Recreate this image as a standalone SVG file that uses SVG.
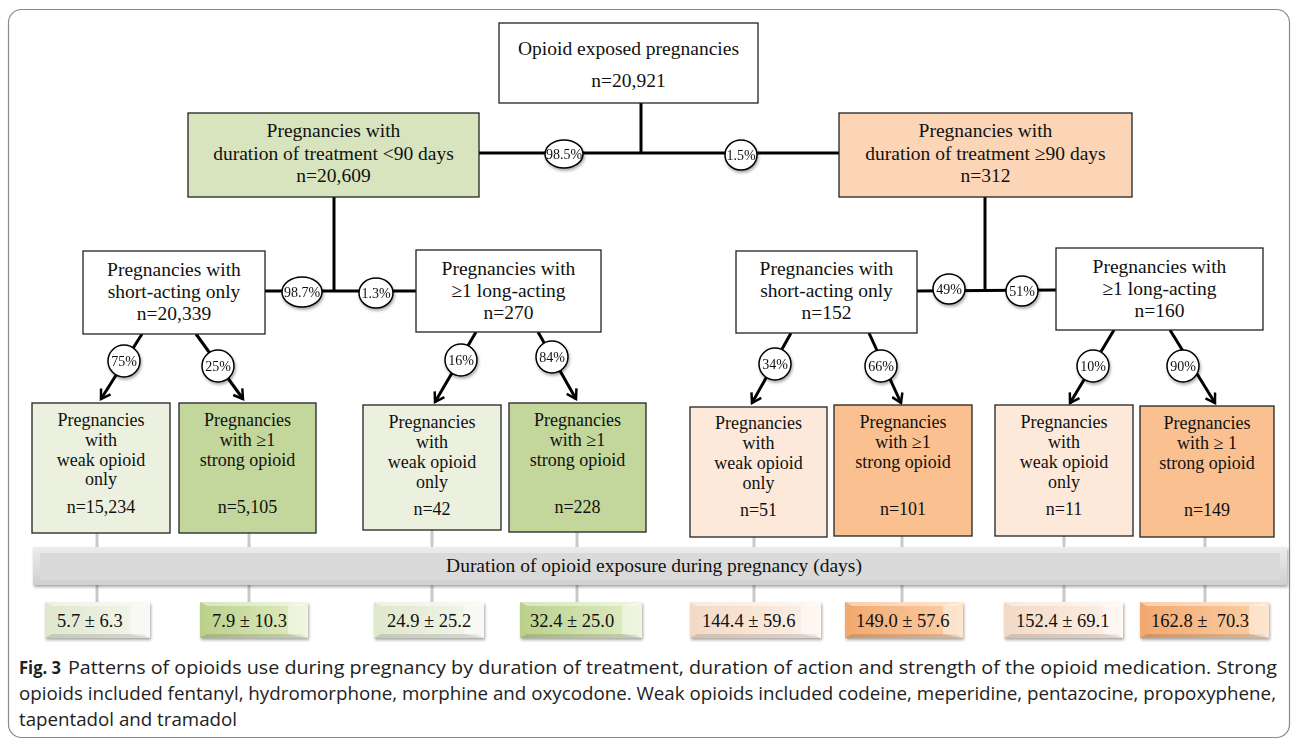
<svg xmlns="http://www.w3.org/2000/svg" width="1292" height="743" viewBox="0 0 1292 743">
<style>
.box{stroke:#222;stroke-width:1.3}
.t{font-family:"Liberation Serif",serif;font-size:19.5px;fill:#111;text-anchor:middle}
.s{font-family:"Liberation Serif",serif;font-size:18px;fill:#111;text-anchor:middle}
.p{font-family:"Liberation Serif",serif;font-size:14px;fill:#111;text-anchor:middle}
.v{font-family:"Liberation Serif",serif;font-size:18.5px;fill:#111}
.ln{stroke:#000;stroke-width:3;fill:none}
.ar{stroke:#000;stroke-width:3;fill:none;marker-end:url(#ah)}
.pill{fill:#fff;stroke:#000;stroke-width:1.5}
.g{stroke:#c9c9c9;stroke-width:3}
.cap{font-family:"Open Sans",sans-serif;font-size:18px;fill:#222}
.hl{fill:#fff;opacity:0.45}
.dk{fill:#000;opacity:0.12}
</style>
<defs>
<marker id="ah" viewBox="0 0 12 12" refX="9" refY="6" markerWidth="4.5" markerHeight="4.5" orient="auto" markerUnits="strokeWidth">
<path d="M1,1 L9,6 L1,11" fill="none" stroke="#000" stroke-width="2.2"/>
</marker>
<linearGradient id="band" x1="0" y1="0" x2="0" y2="1"><stop offset="0" stop-color="#ececec"/><stop offset="1" stop-color="#cfcfcf"/></linearGradient>
<linearGradient id="lg" x1="0" y1="0" x2="1" y2="0"><stop offset="0" stop-color="#dfe7cc"/><stop offset="1" stop-color="#f4f6ee"/></linearGradient>
<linearGradient id="dg" x1="0" y1="0" x2="1" y2="0"><stop offset="0" stop-color="#b9d08a"/><stop offset="1" stop-color="#e3eec7"/></linearGradient>
<linearGradient id="lo" x1="0" y1="0" x2="1" y2="0"><stop offset="0" stop-color="#f2d9c6"/><stop offset="1" stop-color="#fdf1e8"/></linearGradient>
<linearGradient id="do" x1="0" y1="0" x2="1" y2="0"><stop offset="0" stop-color="#f2a86e"/><stop offset="1" stop-color="#fcd0a8"/></linearGradient>
<filter id="sh" x="-10%" y="-20%" width="120%" height="160%"><feDropShadow dx="1" dy="2" stdDeviation="1.5" flood-color="#000" flood-opacity="0.35"/></filter>
</defs>

<rect x="8.5" y="9.5" width="1281" height="728" rx="13" fill="#fff" stroke="#8a8a8a" stroke-width="1.2"/>

<g id="grey-connectors">
<line class="g" x1="97" y1="533" x2="97" y2="603"/>
<line class="g" x1="249" y1="533" x2="249" y2="603"/>
<line class="g" x1="432" y1="530" x2="432" y2="603"/>
<line class="g" x1="577" y1="532" x2="577" y2="603"/>
<line class="g" x1="754" y1="537" x2="754" y2="603"/>
<line class="g" x1="902" y1="536" x2="902" y2="603"/>
<line class="g" x1="1064" y1="536" x2="1064" y2="603"/>
<line class="g" x1="1205" y1="537" x2="1205" y2="603"/>
</g>

<g id="connectors">
<line class="ln" x1="641" y1="103" x2="641" y2="153"/>
<line class="ln" x1="479" y1="153" x2="839" y2="153"/>
<line class="ln" x1="334" y1="197" x2="334" y2="291"/>
<line class="ln" x1="265" y1="291" x2="416" y2="291"/>
<line class="ln" x1="985" y1="197" x2="985" y2="291"/>
<line class="ln" x1="917" y1="291" x2="1056" y2="290"/>
<line class="ar" x1="142" y1="334" x2="101" y2="399"/>
<line class="ar" x1="196" y1="334" x2="243" y2="399"/>
<line class="ar" x1="476" y1="332" x2="435" y2="402"/>
<line class="ar" x1="538" y1="332" x2="576" y2="399"/>
<line class="ar" x1="791" y1="333" x2="752" y2="403"/>
<line class="ar" x1="869" y1="333" x2="901" y2="403"/>
<line class="ar" x1="1114" y1="330" x2="1070" y2="403"/>
<line class="ar" x1="1170" y1="330" x2="1215" y2="403"/>
</g>

<g id="pills" filter="url(#sh)">
<ellipse class="pill" cx="564" cy="154" rx="19" ry="14"/><text class="p" x="564" y="159">98.5%</text>
<ellipse class="pill" cx="741" cy="155" rx="16" ry="15"/><text class="p" x="741" y="160">1.5%</text>
<ellipse class="pill" cx="302" cy="292" rx="20" ry="15"/><text class="p" x="302" y="297">98.7%</text>
<ellipse class="pill" cx="376" cy="293" rx="17" ry="15"/><text class="p" x="376" y="298">1.3%</text>
<ellipse class="pill" cx="949" cy="289" rx="16" ry="15"/><text class="p" x="949" y="294">49%</text>
<ellipse class="pill" cx="1022" cy="291" rx="16" ry="15"/><text class="p" x="1022" y="296">51%</text>
<ellipse class="pill" cx="124" cy="361" rx="16" ry="16"/><text class="p" x="124" y="366">75%</text>
<ellipse class="pill" cx="218" cy="366" rx="16" ry="16"/><text class="p" x="218" y="371">25%</text>
<ellipse class="pill" cx="461" cy="360" rx="16" ry="16"/><text class="p" x="461" y="365">16%</text>
<ellipse class="pill" cx="552" cy="357" rx="16" ry="16"/><text class="p" x="552" y="362">84%</text>
<ellipse class="pill" cx="775" cy="364" rx="16" ry="16"/><text class="p" x="775" y="369">34%</text>
<ellipse class="pill" cx="881" cy="366" rx="16" ry="16"/><text class="p" x="881" y="371">66%</text>
<ellipse class="pill" cx="1093" cy="366" rx="16" ry="16"/><text class="p" x="1093" y="371">10%</text>
<ellipse class="pill" cx="1183" cy="366" rx="16" ry="16"/><text class="p" x="1183" y="371">90%</text>
</g>

<g id="n-root"><rect class="box" x="499" y="23" width="259" height="80" fill="#fff"/>
<text class="t" x="628.5" y="55">Opioid exposed pregnancies</text><text class="t" x="628.5" y="87">n=20,921</text></g>

<g id="n-short"><rect class="box" x="188" y="113" width="291" height="84" fill="#d7e4bd"/>
<text class="t" x="333.5" y="137">Pregnancies with</text><text class="t" x="333.5" y="160">duration of treatment &lt;90 days</text><text class="t" x="333.5" y="182">n=20,609</text></g>

<g id="n-long"><rect class="box" x="839" y="113" width="293" height="84" fill="#fbd5b5"/>
<text class="t" x="985.5" y="137">Pregnancies with</text><text class="t" x="985.5" y="160">duration of treatment ≥90 days</text><text class="t" x="985.5" y="182">n=312</text></g>

<g id="n-s-short"><rect class="box" x="83" y="251" width="182" height="83" fill="#fff"/>
<text class="t" x="174" y="276">Pregnancies with</text><text class="t" x="174" y="298">short-acting only</text><text class="t" x="174" y="320">n=20,339</text></g>

<g id="n-s-long"><rect class="box" x="416" y="250" width="185" height="82" fill="#fff"/>
<text class="t" x="508.5" y="275">Pregnancies with</text><text class="t" x="508.5" y="297">≥1 long-acting</text><text class="t" x="508.5" y="319">n=270</text></g>

<g id="n-l-short"><rect class="box" x="736" y="251" width="181" height="82" fill="#fff"/>
<text class="t" x="826.5" y="275">Pregnancies with</text><text class="t" x="826.5" y="297">short-acting only</text><text class="t" x="826.5" y="319">n=152</text></g>

<g id="n-l-long"><rect class="box" x="1056" y="248" width="207" height="82" fill="#fff"/>
<text class="t" x="1159.5" y="273">Pregnancies with</text><text class="t" x="1159.5" y="295">≥1 long-acting</text><text class="t" x="1159.5" y="317">n=160</text></g>

<g id="n-a1"><rect class="box" x="32" y="403" width="138" height="130" fill="#ebf1de"/>
<text class="s" x="101" y="426">Pregnancies</text><text class="s" x="101" y="446">with</text><text class="s" x="101" y="466">weak opioid</text><text class="s" x="101" y="485">only</text><text class="s" x="101" y="513">n=15,234</text></g>
<g id="n-a2"><rect class="box" x="179" y="403" width="137" height="130" fill="#c3d69b"/>
<text class="s" x="247.5" y="426">Pregnancies</text><text class="s" x="247.5" y="446">with ≥1</text><text class="s" x="247.5" y="466">strong opioid</text><text class="s" x="247.5" y="513">n=5,105</text></g>
<g id="n-a3"><rect class="box" x="363" y="405" width="138" height="125" fill="#ebf1de"/>
<text class="s" x="432" y="428">Pregnancies</text><text class="s" x="432" y="448">with</text><text class="s" x="432" y="468">weak opioid</text><text class="s" x="432" y="488">only</text><text class="s" x="432" y="515">n=42</text></g>
<g id="n-a4"><rect class="box" x="509" y="403" width="137" height="129" fill="#c3d69b"/>
<text class="s" x="577.5" y="426">Pregnancies</text><text class="s" x="577.5" y="446">with ≥1</text><text class="s" x="577.5" y="466">strong opioid</text><text class="s" x="577.5" y="513">n=228</text></g>
<g id="n-b1"><rect class="box" x="690" y="407" width="137" height="130" fill="#fde9d9"/>
<text class="s" x="758.5" y="429">Pregnancies</text><text class="s" x="758.5" y="449">with</text><text class="s" x="758.5" y="469">weak opioid</text><text class="s" x="758.5" y="489">only</text><text class="s" x="758.5" y="516">n=51</text></g>
<g id="n-b2"><rect class="box" x="834" y="405" width="138" height="131" fill="#fac090"/>
<text class="s" x="903" y="428">Pregnancies</text><text class="s" x="903" y="448">with ≥1</text><text class="s" x="903" y="468">strong opioid</text><text class="s" x="903" y="515">n=101</text></g>
<g id="n-b3"><rect class="box" x="995" y="405" width="138" height="131" fill="#fde9d9"/>
<text class="s" x="1064" y="428">Pregnancies</text><text class="s" x="1064" y="448">with</text><text class="s" x="1064" y="468">weak opioid</text><text class="s" x="1064" y="488">only</text><text class="s" x="1064" y="515">n=11</text></g>
<g id="n-b4"><rect class="box" x="1140" y="406" width="134" height="131" fill="#fac090"/>
<text class="s" x="1207" y="429">Pregnancies</text><text class="s" x="1207" y="449">with ≥ 1</text><text class="s" x="1207" y="469">strong opioid</text><text class="s" x="1207" y="516">n=149</text></g>

<g id="band-node">
<rect x="33" y="547" width="1254" height="38" fill="url(#band)" filter="url(#sh)"/>
<rect x="40" y="553" width="1240" height="27" fill="#dadada"/>
<text class="t" x="654" y="572">Duration of opioid exposure during pregnancy (days)</text>
</g>

<g id="values">
<g filter="url(#sh)">
<rect x="45" y="602" width="105" height="36" fill="url(#lg)"/>
<rect x="200" y="602" width="108" height="36" fill="url(#dg)"/>
<rect x="374" y="602" width="110" height="36" fill="url(#lg)"/>
<rect x="520" y="602" width="122" height="36" fill="url(#dg)"/>
<rect x="690" y="602" width="131" height="36" fill="url(#lo)"/>
<rect x="845" y="602" width="118" height="36" fill="url(#do)"/>
<rect x="1004" y="602" width="119" height="36" fill="url(#lo)"/>
<rect x="1140" y="602" width="129" height="36" fill="url(#do)"/>
</g>
<path class="hl" d="M45,602 h105 l-7,4 h-91 z M200,602 h108 l-7,4 h-94 z M374,602 h110 l-7,4 h-96 z M520,602 h122 l-7,4 h-108 z M690,602 h131 l-7,4 h-117 z M845,602 h118 l-7,4 h-104 z M1004,602 h119 l-7,4 h-105 z M1140,602 h129 l-7,4 h-115 z"/>
<path class="dk" d="M45,638 h105 l-7,-4 h-91 z M200,638 h108 l-7,-4 h-94 z M374,638 h110 l-7,-4 h-96 z M520,638 h122 l-7,-4 h-108 z M690,638 h131 l-7,-4 h-117 z M845,638 h118 l-7,-4 h-104 z M1004,638 h119 l-7,-4 h-105 z M1140,638 h129 l-7,-4 h-115 z"/>
<path class="hl" d="M150,602 v36 l-20,-4 v-28 z M308,602 v36 l-20,-4 v-28 z M484,602 v36 l-20,-4 v-28 z M642,602 v36 l-20,-4 v-28 z M821,602 v36 l-20,-4 v-28 z M963,602 v36 l-20,-4 v-28 z M1123,602 v36 l-20,-4 v-28 z M1269,602 v36 l-20,-4 v-28 z"/>
<text class="v" x="57" y="627">5.7 ± 6.3</text>
<text class="v" x="212" y="627">7.9 ± 10.3</text>
<text class="v" x="387" y="627">24.9 ± 25.2</text>
<text class="v" x="530" y="627">32.4 ± 25.0</text>
<text class="v" x="702" y="627">144.4 ± 59.6</text>
<text class="v" x="856" y="627">149.0 ± 57.6</text>
<text class="v" x="1016" y="627">152.4 ± 69.1</text>
<text class="v" x="1151" y="627" xml:space="preserve">162.8 ±  70.3</text>
</g>

<g id="caption">
<text class="cap" x="19" y="674" font-weight="bold" textLength="42" lengthAdjust="spacingAndGlyphs">Fig. 3</text>
<text class="cap" x="68" y="674" textLength="1209" lengthAdjust="spacingAndGlyphs">Patterns of opioids use during pregnancy by duration of treatment, duration of action and strength of the opioid medication. Strong</text>
<text class="cap" x="19" y="700" textLength="1257" lengthAdjust="spacingAndGlyphs">opioids included fentanyl, hydromorphone, morphine and oxycodone. Weak opioids included codeine, meperidine, pentazocine, propoxyphene,</text>
<text class="cap" x="19" y="726" textLength="218" lengthAdjust="spacingAndGlyphs">tapentadol and tramadol</text>
</g>
</svg>
